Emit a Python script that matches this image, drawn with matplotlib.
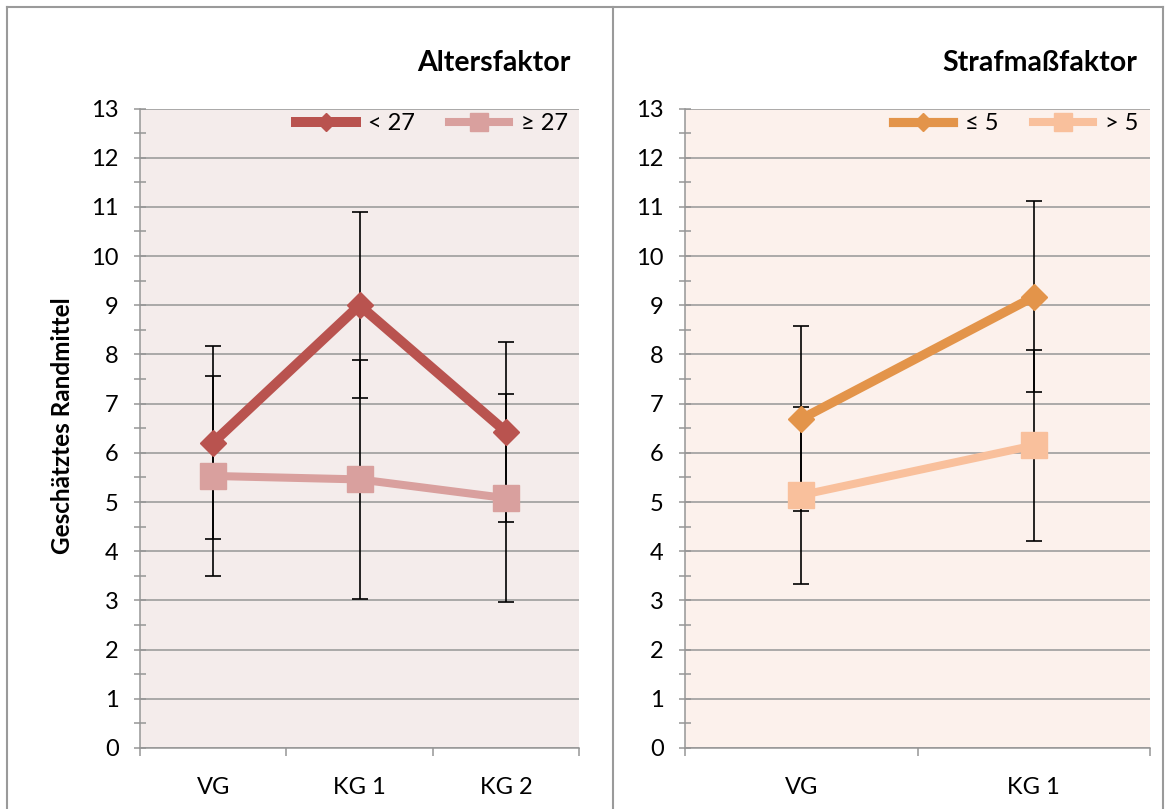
import matplotlib
matplotlib.use('Agg')
import matplotlib.pyplot as plt
from matplotlib.lines import Line2D
import numpy as np

plt.rcParams['font.family'] = ['Lato', 'DejaVu Sans']

# Altersfaktor
alt_groups = ['VG', 'KG 1', 'KG 2']
alt_young = [6.21, 9.00, 6.43]      # < 27
alt_young_err = [1.96, 1.89, 1.83]
alt_old = [5.53, 5.46, 5.08]        # >= 27
alt_old_err = [2.03, 2.43, 2.12]

# Strafmaßfaktor
straf_groups = ['VG', 'KG 1']
straf_low = [6.69, 9.17]            # <= 5
straf_low_err = [1.88, 1.94]
straf_high = [5.14, 6.15]           # > 5
straf_high_err = [1.80, 1.95]

W, H = 1170, 809
fig = plt.figure(figsize=(W / 100, H / 100), dpi=100)

def px(x0, x1, y0, y1):
    return [x0 / W, 1 - y1 / H, (x1 - x0) / W, (y1 - y0) / H]

grid_c = '#969696'
fs = 17


def panel(ax, groups, s1, e1, s2, e2, c1, c2, lab1, lab2, bg, lw1, lw2):
    x = np.arange(len(groups))
    ax.set_facecolor(bg)
    ax.errorbar(x, s1, yerr=e1, fmt='none', ecolor='black', elinewidth=1.2,
                capsize=6, capthick=1.2, zorder=2)
    ax.errorbar(x, s2, yerr=e2, fmt='none', ecolor='black', elinewidth=1.2,
                capsize=6, capthick=1.2, zorder=2)
    ax.plot(x, s1, color=c1, lw=lw1, marker='D', ms=13, mec=c1, mfc=c1,
            solid_joinstyle='miter', zorder=3, label=lab1)
    ax.plot(x, s2, color=c2, lw=lw2, marker='s', ms=19, mec=c2, mfc=c2,
            zorder=4, label=lab2)

    ax.set_xlim(-0.5, len(groups) - 0.5)
    ax.set_ylim(0, 13)
    ax.set_yticks(range(0, 14))
    ax.set_yticks(np.arange(0.5, 13, 1), minor=True)
    ax.set_xticks(x)
    ax.set_xticklabels(groups)
    ax.set_xticks(np.arange(-0.5, len(groups), 1), minor=True)
    ax.yaxis.grid(True, color=grid_c, lw=1.1)
    ax.set_axisbelow(True)
    for s in ['top', 'right']:
        ax.spines[s].set_visible(False)
    for s in ['left', 'bottom']:
        ax.spines[s].set_color(grid_c)
        ax.spines[s].set_linewidth(1.1)
    ax.tick_params(axis='y', which='both', direction='inout', length=8.5,
                   width=1.1, color=grid_c, labelsize=fs, pad=11)
    ax.tick_params(axis='x', which='major', length=0, labelsize=fs, pad=21)
    ax.tick_params(axis='x', which='minor', direction='out', length=5.5,
                   width=1.1, color=grid_c)
    ax.legend(loc='center right', bbox_to_anchor=(0.975, 0.976), ncol=2,
              frameon=False, fontsize=fs, handlelength=2.55, handletextpad=0.5,
              columnspacing=1.45, borderpad=0, borderaxespad=0, markerscale=0.68)


ax1 = fig.add_axes(px(140, 579, 108.5, 748))
panel(ax1, alt_groups, alt_young, alt_young_err, alt_old, alt_old_err,
      '#B9534F', '#D9A09E', '< 27', '≥ 27', '#F4ECEB', 7.2, 5.8)

ax2 = fig.add_axes(px(685, 1150, 108.5, 748))
panel(ax2, straf_groups, straf_low, straf_low_err, straf_high, straf_high_err,
      '#E3944A', '#F9C09C', '≤ 5', '> 5', '#FCF1EC', 6.6, 5.8)

# titles and y label
fig.text(571 / W, 1 - 63 / H, 'Altersfaktor', ha='right', va='center',
         fontsize=20.5, fontweight='bold')
fig.text(1137 / W, 1 - 63 / H, 'Strafmaßfaktor', ha='right', va='center',
         fontsize=20.5, fontweight='bold')
fig.text(63 / W, 1 - 426 / H, 'Geschätztes Randmittel', rotation=90,
         ha='center', va='center', fontsize=17.5, fontweight='bold')

# chart borders
for xs, ys in [([7, 7], [7, H]), ([7, 1163], [7, 7]), ([613, 613], [7, H]),
               ([1163, 1163], [7, H])]:
    fig.add_artist(Line2D([v / W for v in xs], [1 - v / H for v in ys],
                          color='#9a9a9a', lw=1.5))

fig.savefig('out.png', dpi=100)
